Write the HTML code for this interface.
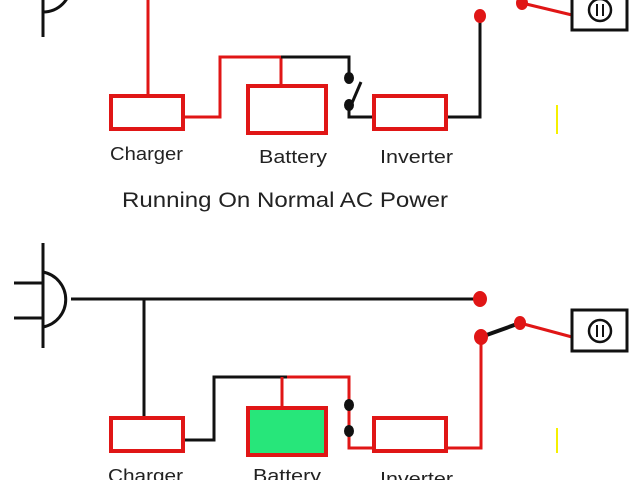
<!DOCTYPE html>
<html><head><style>body{margin:0;background:#fff}svg{display:block}text{font-family:"Liberation Sans",sans-serif;fill:#222}</style></head><body>
<svg width="640" height="480" viewBox="0 0 640 480">
<g fill="none" stroke-width="3">
<!-- TOP -->
<path d="M43 0V37" stroke="#111"/>
<path d="M43 -44A28 28 0 0 1 43 12" stroke="#111"/>
<path d="M148 0V95" stroke="#e01616"/>
<path d="M184 117H220V57H281V85" stroke="#e01616"/>
<path d="M281 57H349V78" stroke="#111"/>
<path d="M352 103L361 82" stroke="#111"/>
<path d="M349 106V117H373" stroke="#111"/>
<path d="M447 117H480V17" stroke="#111"/>
<path d="M522 3L572 15" stroke="#e01616"/>
<rect x="111" y="96" width="72" height="33" stroke="#e01616" stroke-width="4"/>
<rect x="248" y="86" width="78" height="47" stroke="#e01616" stroke-width="4"/>
<rect x="374" y="96" width="72" height="33" stroke="#e01616" stroke-width="4"/>
<rect x="572" y="-10" width="55" height="40" stroke="#111"/>
<circle cx="600" cy="10" r="11" stroke="#111" stroke-width="2.5"/>
<path d="M557 105V134" stroke="#f6f000" stroke-width="2"/>
<!-- BOTTOM -->
<path d="M43 243V348M14 283H43M14 318H43" stroke="#111"/>
<path d="M43 272A28 28 0 0 1 43 327" stroke="#111"/>
<path d="M71 299H480M144 299V417" stroke="#111"/>
<path d="M184 440H214V377H287" stroke="#111"/>
<path d="M287 377H349V448H373M282 377V407M447 448H481V337" stroke="#e01616"/>
<path d="M481 337L520 323" stroke="#111" stroke-width="4"/>
<path d="M520 323L572 337" stroke="#e01616"/>
<rect x="111" y="418" width="72" height="33" stroke="#e01616" stroke-width="4"/>
<rect x="248" y="408" width="78" height="47" stroke="#e01616" stroke-width="4" fill="#27e67a"/>
<rect x="374" y="418" width="72" height="33" stroke="#e01616" stroke-width="4"/>
<rect x="572" y="310" width="55" height="41" stroke="#111"/>
<circle cx="600" cy="331" r="11" stroke="#111" stroke-width="2.5"/>
<path d="M557 428V453" stroke="#f6f000" stroke-width="2"/>
</g>
<path d="M597 4V16M603 4V16M597 325V337M603 325V337" stroke="#111" stroke-width="2"/>
<g fill="#e01616">
<ellipse cx="480" cy="16" rx="6" ry="7"/>
<ellipse cx="522" cy="3" rx="6" ry="7"/>
<ellipse cx="480" cy="299" rx="7" ry="8"/>
<ellipse cx="481" cy="337" rx="7" ry="8"/>
<ellipse cx="520" cy="323" rx="6" ry="7"/>
</g>
<g fill="#111">
<ellipse cx="349" cy="78" rx="5" ry="6"/>
<ellipse cx="349" cy="105" rx="5" ry="6"/>
<ellipse cx="349" cy="405" rx="5" ry="6"/>
<ellipse cx="349" cy="431" rx="5" ry="6"/>
</g>
<text x="110" y="160" font-size="18" textLength="73" lengthAdjust="spacingAndGlyphs">Charger</text>
<text x="259" y="163" font-size="18" textLength="68" lengthAdjust="spacingAndGlyphs">Battery</text>
<text x="380" y="163" font-size="18" textLength="73" lengthAdjust="spacingAndGlyphs">Inverter</text>
<text x="122" y="207" font-size="21" textLength="326" lengthAdjust="spacingAndGlyphs">Running On Normal AC Power</text>
<text x="108" y="482" font-size="18" textLength="75" lengthAdjust="spacingAndGlyphs">Charger</text>
<text x="253" y="482" font-size="18" textLength="68" lengthAdjust="spacingAndGlyphs">Battery</text>
<text x="380" y="485" font-size="18" textLength="73" lengthAdjust="spacingAndGlyphs">Inverter</text>
</svg>
</body></html>
